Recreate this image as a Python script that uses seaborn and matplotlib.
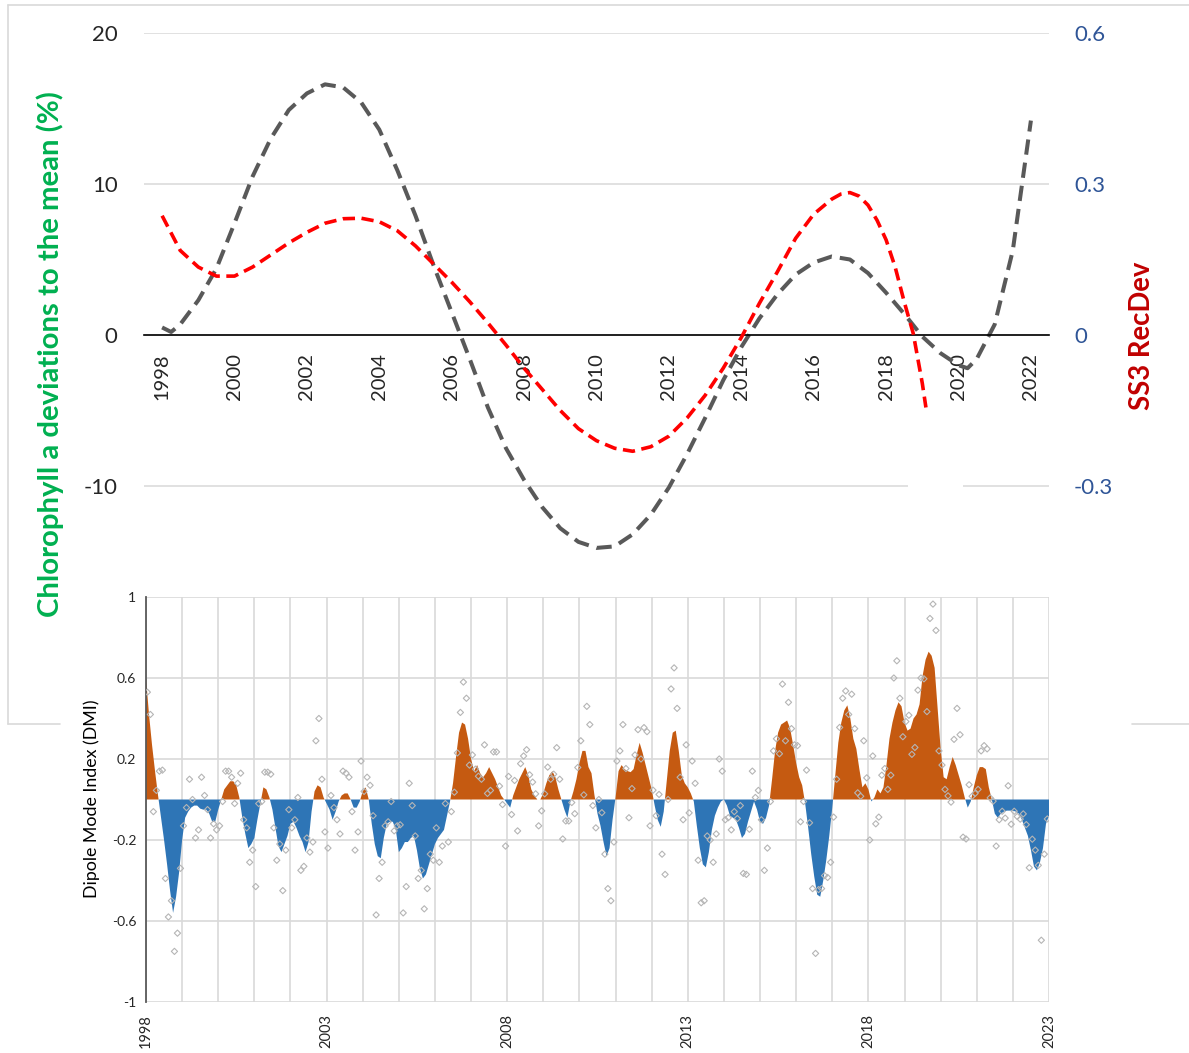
import numpy as np
import pandas as pd
import matplotlib
matplotlib.use("Agg")
import matplotlib.pyplot as plt
from matplotlib.patches import Rectangle
from matplotlib.lines import Line2D
import seaborn as sns

# ---- top panel: smoothed curves ----
chl_years = [1998.0, 1998.25, 1998.5, 1999.0, 1999.5, 2000.0, 2000.5, 2001.0, 2001.5,
             2002.0, 2002.5, 2003.0, 2003.5, 2004.0, 2004.5, 2005.0, 2005.5, 2006.0,
             2006.5, 2007.0, 2007.5, 2008.0, 2008.5, 2009.0, 2009.5, 2010.0, 2010.5,
             2011.0, 2011.5, 2012.0, 2012.5, 2013.0, 2013.5, 2014.0, 2014.5, 2015.0,
             2015.5, 2016.0, 2016.5, 2017.0, 2017.5, 2018.0, 2018.5, 2019.0, 2019.5,
             2020.0, 2020.25, 2020.5, 2021.0, 2021.5, 2021.75, 2022.0]
chl_dev = [0.5, 0.2, 0.7, 2.3, 4.4, 7.4, 10.5, 13.0, 14.9,
           16.0, 16.6, 16.4, 15.4, 13.6, 10.9, 7.9, 4.6, 1.5,
           -1.6, -4.8, -7.5, -9.6, -11.4, -12.8, -13.7, -14.1, -14.0,
           -13.2, -11.9, -10.1, -7.9, -5.5, -3.0, -0.8, 1.1, 2.7,
           4.0, 4.8, 5.2, 5.0, 4.1, 2.8, 1.4, -0.1, -1.2,
           -2.0, -2.2, -1.6, 0.7, 5.6, 9.9, 14.2]

rec_years = [1998.0, 1998.5, 1999.0, 1999.5, 2000.0, 2000.5, 2001.0, 2001.5, 2002.0,
             2002.5, 2003.0, 2003.5, 2004.0, 2004.5, 2005.0, 2005.5, 2006.0, 2006.5,
             2007.0, 2007.5, 2008.0, 2008.5, 2009.0, 2009.5, 2010.0, 2010.5, 2011.0,
             2011.5, 2012.0, 2012.5, 2013.0, 2013.5, 2014.0, 2014.5, 2015.0, 2015.5,
             2016.0, 2016.5, 2016.75, 2017.0, 2017.25, 2017.5, 2017.75, 2018.0, 2018.25,
             2018.5, 2018.75, 2019.0, 2019.1]
rec_dev = [0.237, 0.168, 0.135, 0.117, 0.117, 0.135, 0.159, 0.183, 0.204,
           0.222, 0.231, 0.232, 0.225, 0.207, 0.177, 0.141, 0.105, 0.066,
           0.024, -0.020, -0.066, -0.108, -0.150, -0.186, -0.210, -0.225, -0.231,
           -0.222, -0.201, -0.165, -0.120, -0.066, -0.005, 0.063, 0.126, 0.192,
           0.240, 0.270, 0.280, 0.283, 0.276, 0.258, 0.228, 0.189, 0.135,
           0.066, 0.003, -0.096, -0.144]

# ---- bottom panel: DMI, one value per month from Jan 1998 ----
dmi_smooth = [
    0.60, 0.42, 0.27, 0.14, 0.02, -0.09, -0.20, -0.32, -0.45, -0.56, -0.48, -0.36,
    -0.20, -0.09, -0.06, -0.04, -0.03, -0.03, -0.045, -0.05, -0.05, -0.07, -0.11, -0.11,
    -0.05, 0.00, 0.05, 0.07, 0.09, 0.09, 0.07, 0.01, -0.09, -0.17, -0.24, -0.22,
    -0.19, -0.10, -0.02, 0.06, 0.05, 0.01, -0.05, -0.14, -0.23, -0.26, -0.22, -0.18,
    -0.12, -0.11, -0.14, -0.18, -0.21, -0.26, -0.21, -0.06, 0.04, 0.07, 0.06, 0.01,
    -0.02, -0.05, -0.10, -0.06, -0.01, 0.02, 0.03, 0.03, 0.00, -0.04, -0.04, -0.01,
    0.04, 0.06, 0.00, -0.12, -0.22, -0.28, -0.29, -0.19, -0.12, -0.11, -0.11, -0.15,
    -0.26, -0.24, -0.21, -0.21, -0.19, -0.18, -0.25, -0.34, -0.39, -0.37, -0.32, -0.27,
    -0.22, -0.19, -0.17, -0.15, -0.08, -0.01, 0.08, 0.21, 0.33, 0.38, 0.37, 0.30,
    0.20, 0.14, 0.17, 0.13, 0.11, 0.13, 0.16, 0.13, 0.10, 0.06, 0.02, 0.00,
    -0.02, -0.04, 0.02, 0.06, 0.10, 0.13, 0.16, 0.12, 0.05, 0.02, 0.00, 0.00,
    0.03, 0.08, 0.12, 0.14, 0.11, 0.05, 0.00, -0.05, -0.09, -0.01, 0.04, 0.10,
    0.18, 0.24, 0.24, 0.16, 0.13, 0.02, -0.07, -0.13, -0.21, -0.28, -0.24, -0.10,
    0.01, 0.14, 0.17, 0.15, 0.14, 0.135, 0.15, 0.22, 0.28, 0.23, 0.17, 0.11,
    0.05, -0.03, -0.10, -0.135, -0.06, 0.09, 0.24, 0.33, 0.34, 0.24, 0.12, 0.08,
    0.06, 0.03, -0.01, -0.13, -0.24, -0.32, -0.335, -0.26, -0.15, -0.08, -0.04, -0.01,
    0.00, -0.03, -0.08, -0.09, -0.10, -0.14, -0.19, -0.17, -0.11, -0.06, -0.01, -0.05,
    -0.11, -0.12, -0.09, -0.03, 0.10, 0.24, 0.33, 0.37, 0.38, 0.39, 0.35, 0.27,
    0.18, 0.11, 0.07, -0.02, -0.14, -0.27, -0.38, -0.47, -0.48, -0.40, -0.30, -0.18,
    -0.04, 0.12, 0.28, 0.38, 0.44, 0.465, 0.40, 0.30, 0.25, 0.15, 0.06, 0.08,
    0.05, -0.01, 0.01, 0.05, 0.03, 0.06, 0.17, 0.30, 0.38, 0.44, 0.48, 0.46,
    0.38, 0.34, 0.35, 0.40, 0.42, 0.47, 0.61, 0.69, 0.73, 0.71, 0.65, 0.45,
    0.25, 0.11, 0.10, 0.16, 0.21, 0.17, 0.12, 0.07, 0.01, -0.04, -0.01, 0.06,
    0.12, 0.16, 0.16, 0.15, 0.06, 0.00, -0.07, -0.09, -0.07, -0.06, -0.055, -0.055,
    -0.055, -0.06, -0.07, -0.10, -0.14, -0.18, -0.25, -0.33, -0.35, -0.31, -0.24, -0.12,
    -0.08,
]

dmi_monthly = [
    0.53, 0.42, -0.06, 0.045, 0.14, 0.145, -0.39, -0.58, -0.50, -0.75, -0.66, -0.34,
    -0.13, -0.04, 0.10, 0.00, -0.19, -0.15, 0.11, 0.02, -0.05, -0.19, -0.12, -0.15,
    -0.13, -0.01, 0.14, 0.14, 0.11, -0.02, 0.08, 0.13, -0.10, -0.14, -0.31, -0.25,
    -0.43, -0.02, -0.01, 0.135, 0.135, 0.125, -0.14, -0.30, -0.22, -0.45, -0.25, -0.05,
    -0.14, -0.10, 0.01, -0.35, -0.33, -0.19, -0.26, -0.21, 0.29, 0.40, 0.10, -0.16,
    -0.24, 0.02, -0.04, -0.10, -0.17, 0.14, 0.13, 0.11, -0.06, -0.25, -0.16, 0.19,
    0.04, 0.11, 0.07, -0.08, -0.57, -0.39, -0.31, -0.13, -0.11, -0.01, -0.155, -0.13,
    -0.125, -0.56, -0.43, 0.08, -0.03, -0.18, -0.39, -0.35, -0.54, -0.44, -0.27, -0.30,
    -0.14, -0.31, -0.23, -0.02, -0.21, -0.06, 0.036, 0.23, 0.43, 0.58, 0.50, 0.17,
    0.22, 0.15, 0.115, 0.10, 0.27, 0.03, 0.045, 0.235, 0.235, 0.066, -0.025, -0.23,
    0.114, -0.074, 0.094, -0.155, 0.177, 0.215, 0.246, 0.122, 0.086, 0.028, -0.13, -0.056,
    0.028, 0.16, 0.10, 0.125, 0.256, 0.10, -0.195, -0.106, -0.106, -0.015, -0.07, 0.158,
    0.29, 0.023, 0.46, 0.37, -0.03, -0.14, 0.00, -0.065, -0.27, -0.44, -0.50, -0.21,
    0.19, 0.24, 0.37, 0.153, -0.09, 0.054, 0.22, 0.345, 0.20, 0.355, 0.335, -0.13,
    0.046, -0.08, 0.025, -0.27, -0.37, 0.00, 0.546, 0.65, 0.45, 0.11, -0.10, 0.27,
    -0.066, 0.19, 0.08, -0.30, -0.51, -0.50, -0.18, -0.20, -0.31, -0.17, 0.20, 0.14,
    -0.10, -0.09, -0.15, -0.06, -0.094, -0.03, -0.365, -0.37, -0.147, 0.14, 0.01, 0.045,
    -0.10, -0.35, -0.24, -0.01, 0.24, 0.30, 0.226, 0.57, 0.29, 0.48, 0.35, 0.27,
    0.266, -0.11, -0.01, 0.145, -0.115, -0.44, -0.76, -0.445, -0.44, -0.376, -0.385, -0.31,
    -0.087, 0.10, 0.356, 0.50, 0.536, 0.42, 0.52, 0.35, 0.033, 0.016, 0.29, 0.107,
    -0.20, 0.215, -0.12, -0.087, 0.12, 0.153, 0.05, 0.12, 0.60, 0.685, 0.50, 0.31,
    0.385, 0.416, 0.223, 0.257, 0.54, 0.60, 0.596, 0.434, 0.894, 0.965, 0.835, 0.24,
    0.17, 0.05, 0.018, -0.013, 0.297, 0.45, 0.32, -0.186, -0.195, 0.073, 0.016, 0.03,
    0.05, 0.24, 0.266, 0.25, 0.008, -0.008, -0.23, -0.10, -0.058, -0.092, 0.068, -0.122,
    -0.058, -0.084, -0.097, -0.071, -0.124, -0.337, -0.196, -0.25, -0.325, -0.695, -0.27, -0.096,
]

top_year_labels = list(range(1998, 2023, 2))
dmi_year_labels = [1998, 2003, 2008, 2013, 2018, 2023]

sns.set_style("white")
plt.rcParams["font.family"] = ["Lato", "DejaVu Sans"]
plt.rcParams["axes.unicode_minus"] = False

W, H = 1189, 1053
fig = plt.figure(figsize=(W / 100, H / 100), dpi=100)


def fx(px):
    return px / W


def fy(py):
    return 1 - py / H


# ---------------- top chart ----------------
ax = fig.add_axes([fx(144), fy(561.5), (1049 - 144) / W, (561.5 - 33) / H])
ax.patch.set_visible(False)
sns.lineplot(x=chl_years, y=chl_dev, ax=ax, color="#595959", linewidth=2.9,
             linestyle=(0, (3.8, 2.0)), sort=False)
ax.set_xlim(1997.5, 2022.5)
ax.set_ylim(-15, 20)
ax.set_yticks([-10, 0, 10, 20])
ax.set_yticklabels(["-10", "0", "10", "20"])
ax.set_xticks(top_year_labels)
ax.set_xticklabels([str(y) for y in top_year_labels])
ax.set_xticks(np.arange(1997.5, 2023, 1.0), minor=True)
ax.tick_params(axis="x", which="major", length=0, pad=13, labelsize=14.5, labelrotation=90)
ax.tick_params(axis="x", which="minor", length=6, width=1.2, direction="out", color="black")
ax.tick_params(axis="y", length=0, pad=19, labelsize=16)
for s in ["left", "right", "top"]:
    ax.spines[s].set_visible(False)
ax.spines["bottom"].set_position(("data", 0))
ax.spines["bottom"].set_color("black")
ax.spines["bottom"].set_linewidth(1.2)
ax.grid(False)
ax.yaxis.grid(True, color="#D9D9D9", linewidth=1.1)
ax.set_xlabel("")
ax.set_ylabel("")

ax2 = ax.twinx()
sns.lineplot(x=rec_years, y=rec_dev, ax=ax2, color="#FF0000", linewidth=2.6,
             linestyle=(0, (3.4, 1.8)), sort=False)
ax2.set_ylim(-0.45, 0.6)
ax2.set_yticks([-0.3, 0, 0.3, 0.6])
ax2.set_yticklabels(["-0.3", "0", "0.3", "0.6"])
ax2.tick_params(axis="y", length=0, pad=18, labelsize=16, labelcolor="#2F5597")
for s in ax2.spines.values():
    s.set_visible(False)
ax2.grid(False)
ax2.set_ylabel("")

fig.text(fx(50), fy(354), "Chlorophyll a deviations to the mean (%)", rotation=90,
         ha="center", va="center", color="#00B050", fontsize=21.2, fontweight="bold")
fig.text(fx(1142), fy(336), "SS3 RecDev", rotation=90, ha="center", va="center",
         color="#C00000", fontsize=19.8, fontweight="bold")

# frame around the upper chart
frame_kw = dict(transform=fig.transFigure, color="#D9D9D9", linewidth=1.2)
fig.add_artist(Line2D([fx(8), fx(8)], [fy(5), fy(724)], **frame_kw))
fig.add_artist(Line2D([fx(8), fx(1189)], [fy(5), fy(5)], **frame_kw))
fig.add_artist(Line2D([fx(8), fx(60)], [fy(724), fy(724)], **frame_kw))
fig.add_artist(Line2D([fx(1132), fx(1189)], [fy(724), fy(724)], **frame_kw))
fig.add_artist(Rectangle((fx(908), fy(492)), (963 - 908) / W, 12 / H,
                         transform=fig.transFigure, facecolor="white",
                         edgecolor="none", zorder=5))

# ---------------- bottom chart (DMI) ----------------
bx = fig.add_axes([fx(146), fy(1002), (1049 - 146) / W, (1002 - 597) / H])
bx.set_zorder(2)
smooth_t = 1998 + np.arange(len(dmi_smooth)) / 12.0
smooth_v = np.array(dmi_smooth)
bx.fill_between(smooth_t, smooth_v, 0, where=smooth_v >= 0, interpolate=True,
                color="#C55A11", linewidth=0, zorder=2)
bx.fill_between(smooth_t, smooth_v, 0, where=smooth_v <= 0, interpolate=True,
                color="#2E75B6", linewidth=0, zorder=2)

month_df = pd.DataFrame({
    "t": 1998 + (np.arange(len(dmi_monthly)) + 0.45) / 12.0,
    "dmi": dmi_monthly,
})
sns.scatterplot(data=month_df, x="t", y="dmi", ax=bx, marker="D", s=10,
                facecolor="none", edgecolor="#B5B5B5", linewidth=0.8, zorder=3)

bx.set_xlim(1998, 2023)
bx.set_ylim(-1, 1)
bx.set_xticks(range(1998, 2024))
bx.set_xticklabels([str(y) if y in dmi_year_labels else "" for y in range(1998, 2024)])
bx.tick_params(axis="x", length=0, labelrotation=90, labelsize=10.5, pad=9)
bx.set_yticks([-1, -0.6, -0.2, 0.2, 0.6, 1])
bx.set_yticklabels(["-1", "-0.6", "-0.2", "0.2", "0.6", "1"])
bx.tick_params(axis="y", length=4, width=1.2, color="#595959", labelsize=10, pad=3)
bx.grid(True, color="#D9D9D9", linewidth=1.2)
bx.set_axisbelow(True)
for s in ["right", "top", "bottom"]:
    bx.spines[s].set_visible(False)
bx.spines["left"].set_color("#595959")
bx.spines["left"].set_linewidth(1.3)
bx.set_xlabel("")
bx.set_ylabel("")

fig.text(fx(92), fy(799), "Dipole Mode Index (DMI)", rotation=90, ha="center",
         va="center", color="black", fontsize=12.8)

fig.savefig("out.png", dpi=100)
